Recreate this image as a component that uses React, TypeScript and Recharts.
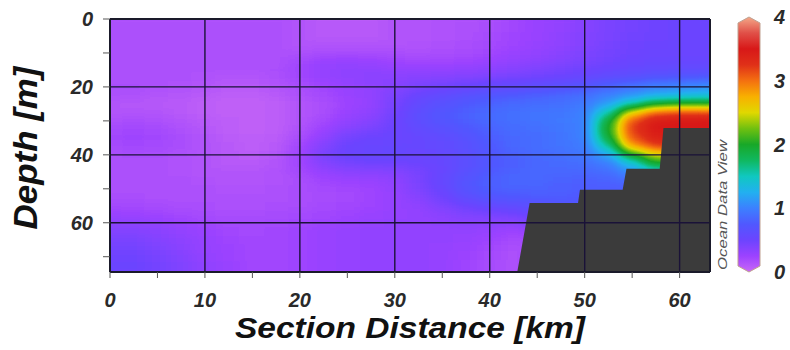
import React from "react";
import {
  ComposedChart,
  Scatter,
  Area,
  XAxis,
  YAxis,
  ReferenceLine,
  BarChart,
  Bar
} from "recharts";

// grid of the section (cell centres)
const DIST_KM = [0, 2.5, 5, 7.5, 10, 12.5, 15, 17.5, 20, 22.5, 25, 27.5, 30, 32.5, 35, 37.5, 40, 42.5, 45, 47.5, 50, 52.5, 55, 57.5, 60, 62.5];
const DEPTH_M = [0, 2.5, 5, 7.5, 10, 12.5, 15, 17.5, 20, 22.5, 25, 27.5, 30, 32.5, 35, 37.5, 40, 42.5, 45, 47.5, 50, 52.5, 55, 57.5, 60, 62.5, 65, 67.5, 70, 72.5, 75];

// one row per depth, one value per distance
const VALUES: number[][] = [
  [.15, .15, .15, .15, .15, .15, .15, .15, .12, .10, .10, .10, .12, .13, .14, .15, .18, .22, .26, .30, .36, .42, .46, .48, .50, .50],
  [.15, .15, .15, .15, .15, .15, .15, .15, .12, .10, .10, .10, .12, .13, .14, .15, .18, .22, .26, .30, .36, .42, .46, .48, .50, .50],
  [.15, .15, .15, .15, .15, .15, .15, .15, .12, .10, .10, .10, .12, .13, .14, .16, .19, .23, .27, .31, .37, .43, .47, .49, .50, .50],
  [.15, .15, .15, .15, .15, .15, .15, .15, .13, .12, .12, .12, .13, .14, .15, .17, .20, .24, .28, .32, .38, .44, .48, .50, .51, .51],
  [.15, .15, .15, .15, .15, .15, .15, .15, .15, .17, .18, .18, .17, .16, .17, .19, .22, .26, .30, .34, .40, .45, .49, .51, .52, .52],
  [.15, .15, .15, .15, .15, .15, .15, .16, .20, .26, .28, .27, .24, .22, .22, .24, .27, .30, .33, .37, .42, .47, .51, .53, .54, .54],
  [.15, .15, .15, .15, .15, .15, .15, .17, .24, .30, .32, .32, .30, .30, .30, .31, .33, .36, .40, .44, .48, .52, .56, .58, .60, .60],
  [.16, .16, .16, .15, .14, .13, .13, .16, .22, .28, .32, .34, .35, .36, .37, .39, .42, .45, .48, .52, .56, .62, .68, .73, .76, .78],
  [.18, .18, .16, .14, .12, .10, .10, .12, .18, .24, .28, .32, .36, .42, .47, .52, .56, .58, .62, .66, .72, .82, .92, 1.0, 1.05, 1.08],
  [.16, .15, .13, .11, .09, .07, .07, .09, .15, .20, .26, .30, .40, .52, .60, .66, .72, .76, .80, .84, .90, 1.0, 1.1, 1.2, 1.25, 1.3],
  [.12, .11, .10, .09, .07, .05, .05, .07, .13, .18, .24, .30, .44, .58, .68, .75, .82, .86, .88, .90, .95, 1.15, 1.5, 1.9, 2.0, 2.0],
  [.12, .12, .12, .10, .07, .05, .04, .06, .12, .18, .26, .32, .46, .62, .72, .80, .86, .90, .92, .94, 1.0, 1.5, 2.5, 3.0, 3.1, 3.1],
  [.16, .17, .16, .13, .09, .06, .04, .06, .12, .20, .30, .36, .48, .62, .72, .80, .86, .90, .92, .95, 1.0, 1.9, 3.1, 3.45, 3.5, 3.5],
  [.20, .22, .20, .16, .11, .07, .05, .07, .14, .25, .36, .42, .50, .58, .66, .74, .82, .88, .90, .94, 1.0, 2.0, 3.2, 3.5, 3.5, 3.5],
  [.22, .24, .22, .18, .13, .08, .06, .08, .18, .32, .45, .50, .52, .55, .60, .68, .78, .85, .88, .92, 1.0, 1.9, 3.1, 3.4, 3.4, 3.4],
  [.20, .22, .20, .17, .13, .09, .07, .10, .22, .38, .50, .54, .55, .55, .58, .66, .76, .84, .88, .92, .98, 1.6, 2.8, 3.2, 3.3, 3.3],
  [.16, .18, .17, .15, .12, .09, .08, .11, .24, .42, .52, .55, .55, .54, .56, .64, .74, .82, .86, .90, .95, 1.2, 2.0, 2.5, 2.6, 2.6],
  [.15, .15, .15, .14, .12, .10, .10, .12, .22, .38, .46, .48, .48, .50, .55, .64, .74, .80, .84, .86, .90, 1.0, 1.4, 2.0, 2.0, 2.0],
  [.15, .15, .15, .14, .13, .12, .12, .14, .20, .30, .34, .36, .38, .44, .54, .66, .76, .82, .84, .84, .84, .90, 1.1, 1.4, 1.4, 1.4],
  [.15, .15, .15, .15, .14, .13, .13, .14, .18, .24, .26, .28, .32, .42, .56, .70, .80, .84, .84, .82, .80, .82, .90, 1.0, 1.0, 1.0],
  [.15, .15, .15, .15, .15, .14, .14, .15, .17, .20, .22, .24, .30, .40, .54, .70, .80, .82, .82, .80, .78, .78, .80, .80, .80, .80],
  [.17, .17, .16, .16, .16, .15, .15, .16, .17, .19, .21, .23, .28, .36, .48, .62, .72, .76, .78, .78, .76, .76, .76, .76, .76, .76],
  [.20, .20, .19, .18, .17, .16, .16, .17, .18, .20, .22, .24, .28, .32, .40, .50, .58, .62, .66, .70, .72, .72, .72, .72, .72, .72],
  [.26, .25, .23, .21, .19, .18, .18, .19, .20, .22, .24, .26, .28, .30, .34, .40, .44, .48, .55, .60, .65, .65, .65, .65, .65, .65],
  [.32, .31, .28, .25, .22, .20, .20, .21, .22, .24, .26, .28, .30, .30, .32, .34, .35, .35, .45, .50, .55, .55, .55, .55, .55, .55],
  [.38, .37, .34, .30, .26, .22, .21, .22, .24, .26, .28, .30, .30, .30, .30, .30, .28, .25, .30, .45, .50, .50, .50, .50, .50, .50],
  [.42, .42, .38, .33, .28, .24, .22, .22, .24, .26, .28, .30, .30, .30, .30, .28, .25, .20, .20, .45, .50, .50, .50, .50, .50, .50],
  [.45, .45, .41, .35, .29, .25, .22, .22, .24, .26, .28, .30, .30, .30, .28, .26, .22, .18, .20, .45, .50, .50, .50, .50, .50, .50],
  [.48, .48, .44, .37, .30, .25, .22, .22, .24, .26, .28, .30, .30, .30, .28, .25, .20, .16, .20, .45, .50, .50, .50, .50, .50, .50],
  [.50, .50, .46, .39, .31, .26, .22, .22, .24, .26, .28, .30, .30, .30, .28, .24, .19, .15, .20, .45, .50, .50, .50, .50, .50, .50],
  [.50, .50, .46, .39, .31, .26, .22, .22, .24, .26, .28, .30, .30, .30, .28, .24, .19, .15, .20, .45, .50, .50, .50, .50, .50, .50]
];

// sea floor outline
const BOTTOM_KM = [42.9, 44.2, 49.3, 49.5, 54.0, 54.4, 57.9, 58.3, 63.2];
const BOTTOM_DEPTH = [74.5, 54.2, 54.2, 50.3, 50.3, 44.1, 44.1, 32.1, 32.1];

const X_TICKS = [0, 5, 10, 15, 20, 25, 30, 35, 40, 45, 50, 55, 60];
const Y_TICKS = [0, 10, 20, 30, 40, 50, 60, 70];
const X_GRID = [10, 20, 30, 40, 50, 60];
const Y_GRID = [20, 40, 60];
const SCALE_TICKS = [0, 1, 2, 3, 4];

// ODV rainbow, one colour every 0.25 from 0 to 4
const PALETTE = [
  "#c868f6", "#9c42ff", "#6c44ff", "#5058ff", "#3c80ff", "#22b0f0", "#10c8c0", "#10b860",
  "#18a828", "#70c010", "#e0d800", "#f8b000", "#f47010", "#e03018", "#d81818", "#e05048", "#f4a888"
];

const X_MAX = 63.2;
const Y_MAX = 74.5;
const V_MAX = 4;
const CELL_KM = 2.5;
const CELL_M = 2.5;

const PLOT = { left: 110, top: 19, width: 600, height: 253 };
const FONT = "Arial, 'Liberation Sans', sans-serif";

const heatCells = DEPTH_M.flatMap((depth, i) =>
  DIST_KM.map((km, j) => ({ km, depth, v: VALUES[i][j] }))
);
const bottomLine = BOTTOM_KM.map((km, i) => ({ km, depth: BOTTOM_DEPTH[i] }));

const channel = (k: number) =>
  PALETTE.map((c) => (parseInt(c.slice(1 + 2 * k, 3 + 2 * k), 16) / 255).toFixed(3)).join(" ");

// values drawn as grey levels, smoothed, then mapped to the palette by the filter
const HeatCell = (props: any) => {
  const { cx, cy, payload } = props;
  const w = CELL_KM * (PLOT.width / X_MAX) + 1;
  const h = CELL_M * (PLOT.height / Y_MAX) + 1;
  const g = Math.round(255 * Math.min(1, payload.v / V_MAX));
  return <rect x={cx - w / 2} y={cy - h / 2} width={w} height={h} fill={`rgb(${g},${g},${g})`} />;
};

const ScaleShape = (props: any) => {
  const { x, y, width, height } = props;
  const tip = 6;
  const mx = x + width / 2;
  const d = `M${mx},${y} L${x + width},${y + tip} L${x + width},${y + height - tip} L${mx},${y + height} L${x},${y + height - tip} L${x},${y + tip} Z`;
  return <path d={d} fill="url(#odvScale)" stroke="#c0a090" strokeWidth={1} />;
};

const tickStyle = { fill: "#2a2a2a", fontSize: 20, fontWeight: 700, fontStyle: "italic", fontFamily: FONT };

export default function App() {
  return (
    <div style={{ position: "absolute", left: 0, top: 0, width: 790, height: 350, background: "#fff" }}>
      <style>{`.recharts-scatter { filter: url(#heatSmooth); clip-path: url(#heatClip); }`}</style>
      <svg width={0} height={0} style={{ position: "absolute" }}>
        <defs>
          <filter id="heatSmooth" filterUnits="userSpaceOnUse" x={80} y={0} width={660} height={300} colorInterpolationFilters="sRGB">
            <feGaussianBlur stdDeviation="8 4" edgeMode="duplicate" />
            <feComponentTransfer>
              <feFuncR type="table" tableValues={channel(0)} />
              <feFuncG type="table" tableValues={channel(1)} />
              <feFuncB type="table" tableValues={channel(2)} />
              <feFuncA type="linear" slope={0} intercept={1} />
            </feComponentTransfer>
          </filter>
          <clipPath id="heatClip" clipPathUnits="userSpaceOnUse">
            <rect x={PLOT.left} y={PLOT.top} width={PLOT.width} height={PLOT.height} />
          </clipPath>
          <linearGradient id="odvScale" x1="0" y1="1" x2="0" y2="0">
            {PALETTE.map((c, i) => (
              <stop key={i} offset={`${(i / (PALETTE.length - 1)) * 100}%`} stopColor={c} />
            ))}
          </linearGradient>
        </defs>
      </svg>

      <div style={{ position: "absolute", left: 0, top: 0 }}>
        <ComposedChart
          width={790}
          height={350}
          data={bottomLine}
          margin={{ top: PLOT.top, right: 80, bottom: 48, left: 50 }}
        >
          <XAxis
            dataKey="km"
            type="number"
            domain={[0, X_MAX]}
            allowDataOverflow
            ticks={X_TICKS}
            interval={0}
            tickFormatter={(v: number) => (v % 10 === 0 ? String(v) : "")}
            height={30}
            tickSize={6}
            tickMargin={15}
            axisLine={false}
            tickLine={{ stroke: "#555" }}
            tick={tickStyle}
          />
          <YAxis
            dataKey="depth"
            type="number"
            reversed
            domain={[0, Y_MAX]}
            allowDataOverflow
            ticks={Y_TICKS}
            interval={0}
            tickFormatter={(v: number) => (v % 20 === 0 ? String(v) : "")}
            width={60}
            tickSize={7}
            tickMargin={10}
            axisLine={false}
            tickLine={{ stroke: "#555" }}
            tick={tickStyle}
          />
          <Scatter data={heatCells} shape={HeatCell} isAnimationActive={false} zIndex={100} />
          <Area
            type="linear"
            dataKey="depth"
            baseValue="dataMax"
            stroke="none"
            fill="#3b3b3b"
            fillOpacity={1}
            dot={false}
            activeDot={false}
            isAnimationActive={false}
            zIndex={200}
          />
          {X_GRID.map((x) => (
            <ReferenceLine key={`gx${x}`} x={x} stroke="#1a1238" strokeWidth={1.4} zIndex={300} />
          ))}
          {Y_GRID.map((y) => (
            <ReferenceLine key={`gy${y}`} y={y} stroke="#1a1238" strokeWidth={1.4} zIndex={300} />
          ))}
          <ReferenceLine x={0} stroke="#1a1a2a" strokeWidth={2} zIndex={310} />
          <ReferenceLine x={X_MAX} stroke="#1a1a2a" strokeWidth={2} zIndex={310} />
          <ReferenceLine y={0} stroke="#1a1a2a" strokeWidth={2} zIndex={310} />
          <ReferenceLine y={Y_MAX} stroke="#1a1a2a" strokeWidth={2} zIndex={310} />
        </ComposedChart>
      </div>

      <div style={{ position: "absolute", left: 700, top: 0 }}>
        <BarChart
          width={90}
          height={350}
          data={[{ name: "scale", top: V_MAX }]}
          margin={{ top: 17, right: 0, bottom: 78, left: 38 }}
          barCategoryGap={0}
        >
          <XAxis dataKey="name" hide />
          <YAxis
            orientation="right"
            type="number"
            domain={[0, V_MAX]}
            ticks={SCALE_TICKS}
            interval={0}
            width={30}
            axisLine={false}
            tickLine={false}
            tickMargin={8}
            tick={tickStyle}
          />
          <Bar dataKey="top" shape={ScaleShape} isAnimationActive={false} />
        </BarChart>
      </div>

      <svg width={790} height={350} style={{ position: "absolute", left: 0, top: 0, pointerEvents: "none" }}>
        <text
          x={37}
          y={148}
          transform="rotate(-90, 37, 148)"
          textAnchor="middle"
          fontFamily={FONT}
          fontWeight={700}
          fontStyle="italic"
          fontSize={34}
          fill="#111"
          textLength={163}
          lengthAdjust="spacingAndGlyphs"
        >
          Depth [m]
        </text>
        <text
          x={410}
          y={338}
          textAnchor="middle"
          fontFamily={FONT}
          fontWeight={700}
          fontStyle="italic"
          fontSize={30}
          fill="#111"
          textLength={350}
          lengthAdjust="spacingAndGlyphs"
        >
          Section Distance [km]
        </text>
        <text
          x={727}
          y={205}
          transform="rotate(-90, 727, 205)"
          textAnchor="middle"
          fontFamily={FONT}
          fontStyle="italic"
          fontSize={13}
          fill="#555"
          textLength={130}
          lengthAdjust="spacingAndGlyphs"
        >
          Ocean Data View
        </text>
      </svg>
    </div>
  );
}
